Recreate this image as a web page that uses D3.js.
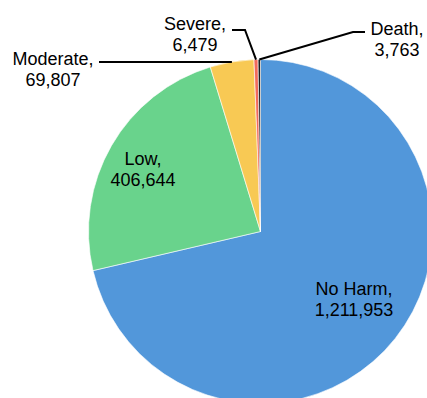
<!DOCTYPE html>
<html>
<head>
<meta charset="utf-8">
<script src="https://cdn.jsdelivr.net/npm/d3@7"></script>
<style>
  body { margin: 0; background: #fff; }
  text { font-family: "Liberation Sans", Arial, sans-serif; font-size: 18px; fill: #000; }
</style>
</head>
<body>
<div id="chart"></div>
<script>
// data
var categories = ["No Harm", "Low", "Moderate", "Severe", "Death"];
var values = [1211953, 406644, 69807, 6479, 3763];
var colors = ["#5297da", "#69d38c", "#f8c954", "#f26b5c", "#1c1c1c"];

var svgWidth = 427;
var svgHeight = 398;

var cx = 260.5, cy = 231.5, radius = 172;

var svg = d3.select("#chart")
    .append("svg")
    .attr("width", svgWidth)
    .attr("height", svgHeight);

var chartGroup = svg.append("g")
    .attr("transform", `translate(${cx}, ${cy})`);

var slices = categories.map((c, i) => ({ name: c, value: values[i], color: colors[i] }));

var pie = d3.pie()
    .value(d => d.value)
    .sort(null);

var arc = d3.arc()
    .innerRadius(0)
    .outerRadius(radius);

var arcs = pie(slices);

chartGroup.selectAll("path")
    .data(arcs)
    .enter()
    .append("path")
    .attr("d", arc)
    .attr("fill", d => d.data.color)
    .attr("stroke", "#fff")
    .attr("stroke-width", 0.6);

// point on the rim at the slice middle
function rim(d) {
    var a = (d.startAngle + d.endAngle) / 2;
    return [radius * Math.sin(a), -radius * Math.cos(a)];
}

// label layout, first-line baseline relative to centre (placed by hand like excel)
var layout = {
    "No Harm": { x: 354 - cx, y: 295 - cy },
    "Low": { x: 143 - cx, y: 165 - cy },
    "Moderate": { x: 53 - cx, y: 65 - cy, leader: [[99 - cx, 62 - cy]] },
    "Severe": { x: 195 - cx, y: 30 - cy, leader: [[245 - cx, 30 - cy], [232 - cx, 30 - cy]] },
    "Death": { x: 397 - cx, y: 35 - cy, leader: [[353 - cx, 32 - cy], [365 - cx, 32 - cy]] }
};

var fmt = d3.format(",");

arcs.forEach(function(d) {
    var L = layout[d.data.name];
    if (L.leader) {
        var pts = [rim(d)].concat(L.leader);
        chartGroup.append("path")
            .attr("d", d3.line()(pts))
            .attr("fill", "none")
            .attr("stroke", "#000")
            .attr("stroke-width", 2);
    }
    var t = chartGroup.append("text")
        .attr("text-anchor", "middle")
        .attr("x", L.x)
        .attr("y", L.y);
    t.append("tspan").attr("x", L.x).text(d.data.name + ",");
    t.append("tspan").attr("x", L.x).attr("dy", 20.5).text(fmt(d.data.value));
});
</script>
</body>
</html>
